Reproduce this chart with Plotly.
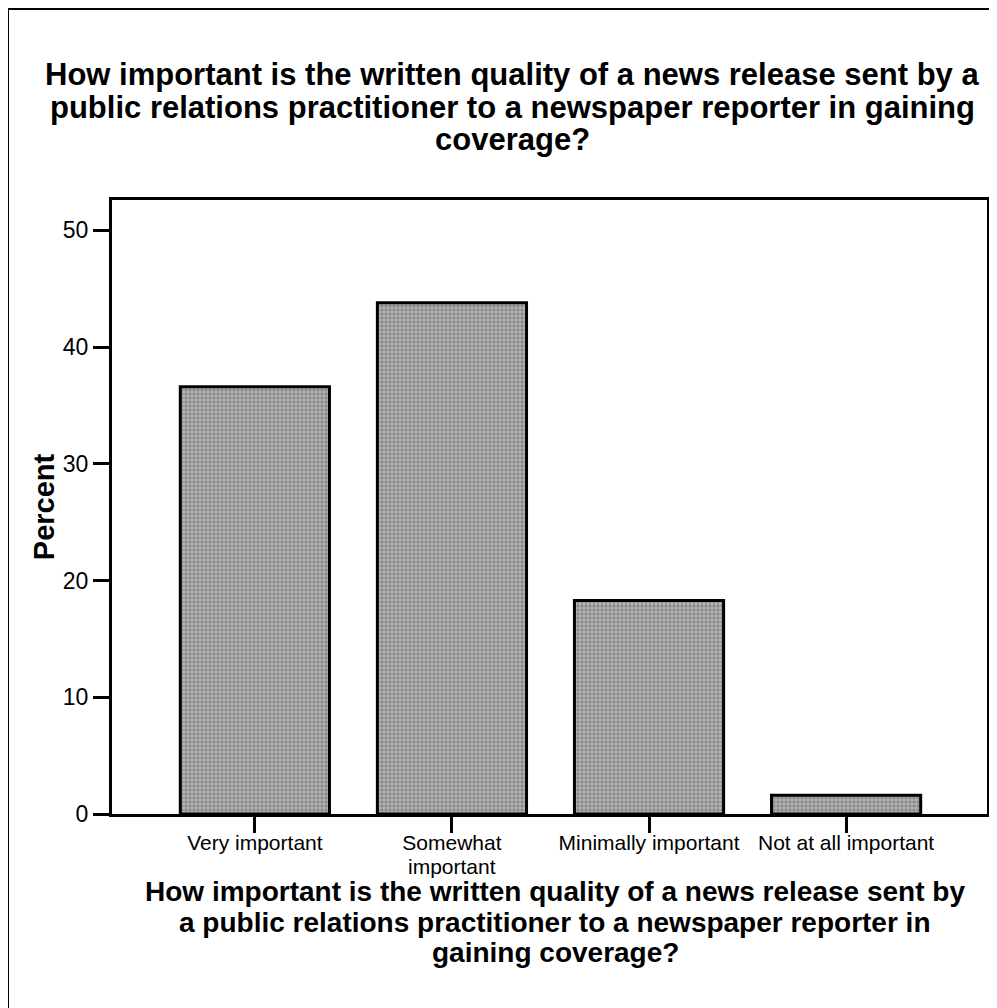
import plotly.graph_objects as go

categories = ["Very important", "Somewhat<br>important", "Minimally important", "Not at all important"]
percent = [36.6, 43.8, 18.3, 1.6]
y_ticks = [0, 10, 20, 30, 40, 50]

title_lines = [
    "How important is the written quality of a news release sent by a",
    "public relations practitioner to a newspaper reporter in gaining",
    "coverage?",
]
xtitle_lines = [
    "How important is the written quality of a news release sent by",
    "a public relations practitioner to a newspaper reporter in",
    "gaining coverage?",
]

OFF = 8  # page body margin
W, H = 997 - OFF, 1008 - OFF
# plot area in page pixels: x 112..987, y 200..814
L, T = 112 - OFF, 200 - OFF
R = W - (987 - OFF)
B = H - (814 - OFF)
pw, ph = W - L - R, H - T - B

def px_x(x):
    return (x - OFF - L) / pw

def px_y(y):
    return (H - B - (y - OFF)) / ph

font_family = "Liberation Sans, Arial, sans-serif"

# first line of each category label is the tick label; wrapped lines drawn tighter below
first_lines = [c.split("<br>")[0] for c in categories]
extra_lines = [c.split("<br>")[1:] for c in categories]

fig = go.Figure()
fig.add_trace(go.Bar(
    x=list(range(len(categories))),
    y=percent,
    width=0.757,
    marker=dict(
        color="#9a9a9a",
        line=dict(color="black", width=3),
        pattern=dict(shape="+", fgcolor="#454545", bgcolor="#b8b8b8", size=4, solidity=0.45),
    ),
    showlegend=False,
))

fig.update_layout(
    width=W, height=H,
    margin=dict(l=L, r=R, t=T, b=B, autoexpand=False),
    paper_bgcolor="white",
    plot_bgcolor="white",
    font=dict(family=font_family, color="black"),
)

fig.update_xaxes(
    range=[-0.725, 3.715],
    tickmode="array",
    tickvals=list(range(len(categories))),
    ticktext=first_lines,
    ticks="outside", ticklen=16, tickwidth=3, tickcolor="black",
    tickfont=dict(size=21, family=font_family, color="black"),
    ticklabelstandoff=-8,
    showline=True, linewidth=3, linecolor="black", mirror=True,
    showgrid=False, zeroline=False,
)
fig.update_yaxes(
    range=[0, 52.6],
    tickmode="array",
    tickvals=y_ticks,
    ticks="outside", ticklen=16, tickwidth=3, tickcolor="black",
    tickfont=dict(size=23, family=font_family, color="black"),
    showline=True, linewidth=3, linecolor="black", mirror=True,
    showgrid=False, zeroline=False,
    title=dict(text="<b>Percent</b>", font=dict(size=29, family=font_family, color="black"), standoff=0),
)

for i, extras in enumerate(extra_lines):
    for k, txt in enumerate(extras):
        fig.add_annotation(
            text=txt, xref="x", yref="paper", x=i, y=px_y(866 + 22 * k),
            xanchor="center", yanchor="middle", showarrow=False,
            font=dict(size=21, family=font_family, color="black"),
        )

for line, yc in zip(title_lines, [75, 108, 140]):
    fig.add_annotation(
        text="<b>" + line + "</b>",
        xref="paper", yref="paper", x=px_x(512), y=px_y(yc),
        xanchor="center", yanchor="middle", showarrow=False, align="center",
        font=dict(size=31, family=font_family, color="black"),
    )
for line, yc in zip(xtitle_lines, [891, 922, 953]):
    fig.add_annotation(
        text="<b>" + line + "</b>",
        xref="paper", yref="paper", x=px_x(555), y=px_y(yc),
        xanchor="center", yanchor="middle", showarrow=False, align="center",
        font=dict(size=28, family=font_family, color="black"),
    )

# outer frame (top and left edges visible in reference)
fig.add_shape(type="line", xref="paper", yref="paper",
              x0=px_x(8), x1=px_x(1000), y0=px_y(9), y1=px_y(9),
              line=dict(color="black", width=2))
fig.add_shape(type="line", xref="paper", yref="paper",
              x0=px_x(8), x1=px_x(8), y0=px_y(9), y1=px_y(1010),
              line=dict(color="black", width=2))

fig.write_html("out.html")
